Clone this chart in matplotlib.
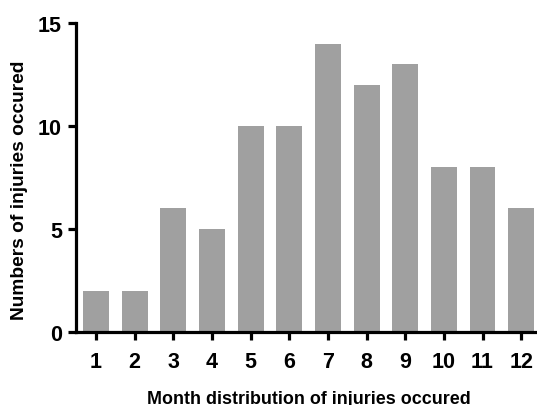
import matplotlib
matplotlib.use("Agg")
import matplotlib.pyplot as plt

months = [str(i) for i in range(1, 13)]
values = [2, 2, 6, 5, 10, 10, 14, 12, 13, 8, 8, 6]
yticks = [0, 5, 10, 15]

plt.rcParams['font.family'] = ['Liberation Sans', 'DejaVu Sans']
plt.rcParams['font.weight'] = 'bold'

fig = plt.figure(figsize=(5.37, 4.06), dpi=100)
ax = fig.add_axes([76/537, 73/406, 1 - 76/537, (333-24)/406])
x = list(range(1, 13))
ax.bar(x, values, width=0.67, color='#a0a0a0', zorder=2)
ax.set_xlim(0.48, 12.41)
ax.set_ylim(0, 15)
ax.set_xticks(x)
ax.set_xticklabels(months)
ax.set_yticks(yticks)
for s in ['top', 'right']:
    ax.spines[s].set_visible(False)
for s in ['left', 'bottom']:
    ax.spines[s].set_linewidth(2.3)
ax.tick_params(axis='both', width=2.3, length=6, labelsize=15.5)
ax.tick_params(axis='x', pad=8)
ax.tick_params(axis='y', pad=4)
for lab in ax.get_xticklabels() + ax.get_yticklabels():
    lab.set_fontweight('bold')
ax.set_xlabel('Month distribution of injuries occured', fontsize=12.9, fontweight='bold')
ax.set_ylabel('Numbers of injuries occured', fontsize=13.8, fontweight='bold')
ax.xaxis.label.set_va('center')
ax.yaxis.label.set_va('center')
ax.xaxis.set_label_coords(0.505, -0.2136)
ax.yaxis.set_label_coords(-0.1226, 0.4628)
fig.savefig('out.png', dpi=100)
